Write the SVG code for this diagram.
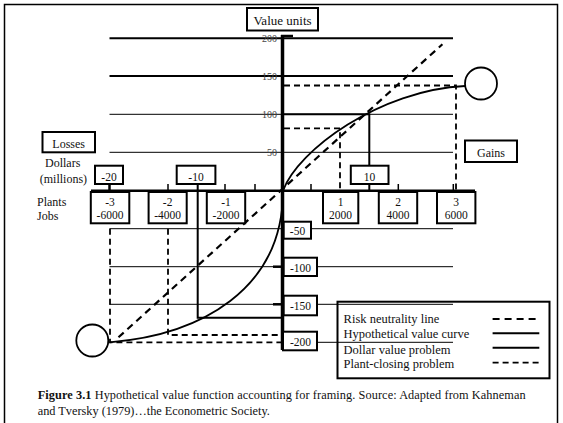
<svg xmlns="http://www.w3.org/2000/svg" width="563" height="423" viewBox="0 0 563 423">
<style>
text{font-family:"Liberation Serif","Times New Roman",serif;fill:#111}
.box{fill:#fff;stroke:#000;stroke-width:2}
.lbl{font-size:11.5px;text-anchor:middle}
.big{font-size:12px}
.val{font-size:10px;text-anchor:end;fill:#444}
.thin{stroke:#000;stroke-width:1;fill:none}
.thick{stroke:#000;stroke-width:2;fill:none}
.dash{stroke:#000;stroke-width:1.8;stroke-dasharray:6,4;fill:none}
.risk{stroke:#000;stroke-width:2.2;stroke-dasharray:7,5;fill:none}
</style>
<rect x="4.5" y="4.5" width="553" height="430" fill="#fff" stroke="#000" stroke-width="1.5"/>

<g id="grid">
<line class="thick" x1="109.5" y1="38.3" x2="453" y2="38.3"/>
<line class="thick" x1="109.5" y1="76" x2="453" y2="76"/>
<line class="thin" x1="109.5" y1="114.3" x2="453" y2="114.3"/>
<line class="thin" x1="109.5" y1="152.3" x2="453" y2="152.3"/>
<line class="thin" x1="109.5" y1="228.7" x2="453" y2="228.7"/>
<line class="thin" x1="109.5" y1="266.7" x2="453" y2="266.7"/>
<line class="thin" x1="109.5" y1="304.3" x2="453" y2="304.3"/>
<line class="thin" x1="284" y1="342.3" x2="453" y2="342.3"/>
<text class="val" x="277" y="41.8">200</text>
<text class="val" x="277" y="79.5">150</text>
<text class="val" x="277" y="117.8">100</text>
<text class="val" x="277" y="155.8">50</text>
</g>

<g id="connectors">
<line x1="91" y1="190.7" x2="475" y2="190.7" stroke="#000" stroke-width="2.5"/>
<line x1="282.5" y1="35" x2="282.5" y2="350" stroke="#000" stroke-width="3.5"/>
<line x1="281" y1="36" x2="293" y2="36" stroke="#000" stroke-width="2.5"/>
<g stroke="#000" stroke-width="1.5">
<line x1="168" y1="184" x2="168" y2="190"/>
<line x1="225" y1="184" x2="225" y2="190"/>
<line x1="255" y1="184" x2="255" y2="190"/>
<line x1="311" y1="184" x2="311" y2="190"/>
<line x1="398.3" y1="184" x2="398.3" y2="190"/>
<line x1="453.3" y1="184" x2="453.3" y2="190"/>
</g>
<line x1="109.5" y1="184" x2="109.5" y2="190" stroke="#000" stroke-width="2.5"/>
<line x1="273" y1="266.7" x2="282" y2="266.7" stroke="#000" stroke-width="2.5"/>
<line x1="273" y1="304.3" x2="282" y2="304.3" stroke="#000" stroke-width="2.5"/>
<path class="dash" d="M284,85.5 H456 V190"/>
<path class="dash" d="M284,128.3 H340 V190"/>
<path class="dash" d="M168,228.7 V335 H284"/>
<path class="dash" d="M110,228.7 V342.3 H284"/>
<path class="thick" d="M284,114.3 H369.3 V165.7"/>
<line class="thick" x1="369.3" y1="184" x2="369.3" y2="190"/>
<path class="thick" d="M197.7,184 V317.7 H284"/>
<line class="risk" x1="118.5" y1="337.3" x2="442.4" y2="44.3"/>
<path d="M109.5,342.3 C200,335 283,290 283,190.7 C298,150 380,90 465,86" fill="none" stroke="#000" stroke-width="1.8"/>
</g>

<g id="circle-gains"><circle cx="481" cy="83.5" r="16" fill="#fff" stroke="#000" stroke-width="1.8"/></g>
<g id="circle-losses"><circle cx="92.3" cy="340.5" r="16" fill="#fff" stroke="#000" stroke-width="1.8"/></g>

<g id="value-units"><rect class="box" x="247" y="8" width="71" height="22.5"/><text x="282.5" y="24.5" font-size="13" text-anchor="middle">Value units</text></g>
<g id="losses"><rect class="box" x="42.5" y="132" width="52.5" height="20.3"/><text class="big" x="68.7" y="148" text-anchor="middle">Losses</text></g>
<g id="gains"><rect class="box" x="465" y="140.5" width="52" height="21.5"/><text class="big" x="491" y="156.5" text-anchor="middle">Gains</text></g>
<g id="axis-labels">
<text class="big" x="62.7" y="166.5" text-anchor="middle">Dollars</text>
<text class="big" x="63.4" y="182.5" text-anchor="middle">(millions)</text>
<text class="big" x="37" y="206">Plants</text>
<text class="big" x="37" y="220">Jobs</text>
</g>

<g id="d-20"><rect class="box" x="95" y="165.7" width="28" height="18.3"/><text class="lbl" x="109" y="180.5">-20</text></g>
<g id="d-10"><rect class="box" x="176.7" y="165.7" width="38.7" height="18.3"/><text class="lbl" x="196" y="180.5">-10</text></g>
<g id="d10"><rect class="box" x="350.8" y="165.7" width="37.7" height="18.3"/><text class="lbl" x="369.6" y="180.5">10</text></g>

<g id="p-3"><rect class="box" x="90.8" y="192" width="38.5" height="31.3"/><text class="lbl" x="110" y="206">-3</text><text class="lbl" x="110" y="219">-6000</text></g>
<g id="p-2"><rect class="box" x="148.6" y="192" width="38.1" height="31.3"/><text class="lbl" x="167.6" y="206">-2</text><text class="lbl" x="167.6" y="219">-4000</text></g>
<g id="p-1"><rect class="box" x="206.8" y="192" width="38.4" height="31.3"/><text class="lbl" x="226" y="206">-1</text><text class="lbl" x="226" y="219">-2000</text></g>
<g id="p1"><rect class="box" x="323" y="192" width="35.3" height="31.3"/><text class="lbl" x="340.6" y="206">1</text><text class="lbl" x="340.6" y="219">2000</text></g>
<g id="p2"><rect class="box" x="378.8" y="192" width="38.4" height="31.3"/><text class="lbl" x="398" y="206">2</text><text class="lbl" x="398" y="219">4000</text></g>
<g id="p3"><rect class="box" x="437" y="192" width="38.4" height="31.3"/><text class="lbl" x="456.2" y="206">3</text><text class="lbl" x="456.2" y="219">6000</text></g>

<g id="v-50"><rect class="box" x="283.7" y="221.7" width="27.3" height="17"/><text class="lbl" x="297.5" y="234.5">-50</text></g>
<g id="v-100"><rect class="box" x="283.7" y="257.7" width="33.3" height="18.3"/><text class="lbl" x="300.5" y="272">-100</text></g>
<g id="v-150"><rect class="box" x="283.7" y="295.7" width="33.3" height="19.6"/><text class="lbl" x="300.5" y="310">-150</text></g>
<g id="v-200"><rect class="box" x="283" y="331.7" width="34" height="18.6"/><text class="lbl" x="300.5" y="346">-200</text></g>

<g id="legend">
<rect x="337.5" y="301.7" width="212" height="76.6" fill="none" stroke="#000" stroke-width="2"/>
<text x="343.6" y="322.5" font-size="12.5">Risk neutrality line</text>
<text x="343.6" y="337.8" font-size="12.5">Hypothetical value curve</text>
<text x="343.6" y="354" font-size="12.5">Dollar value problem</text>
<text x="343.6" y="368" font-size="12.5">Plant-closing problem</text>
<line class="risk" x1="492.6" y1="319" x2="539.3" y2="319"/>
<line class="thick" x1="492.6" y1="333.3" x2="539.3" y2="333.3"/>
<line class="thick" x1="492.6" y1="347.7" x2="539.3" y2="347.7"/>
<line class="dash" x1="492.6" y1="362.7" x2="541" y2="362.7" stroke-width="2"/>
</g>

<g id="caption">
<text x="37.7" y="399" font-size="12.3" textLength="488" lengthAdjust="spacing"><tspan font-weight="bold">Figure 3.1</tspan> Hypothetical value function accounting for framing. Source: Adapted from  Kahneman</text>
<text x="37.7" y="415" font-size="12.3">and Tversky (1979)…the Econometric Society.</text>
</g>
</svg>
